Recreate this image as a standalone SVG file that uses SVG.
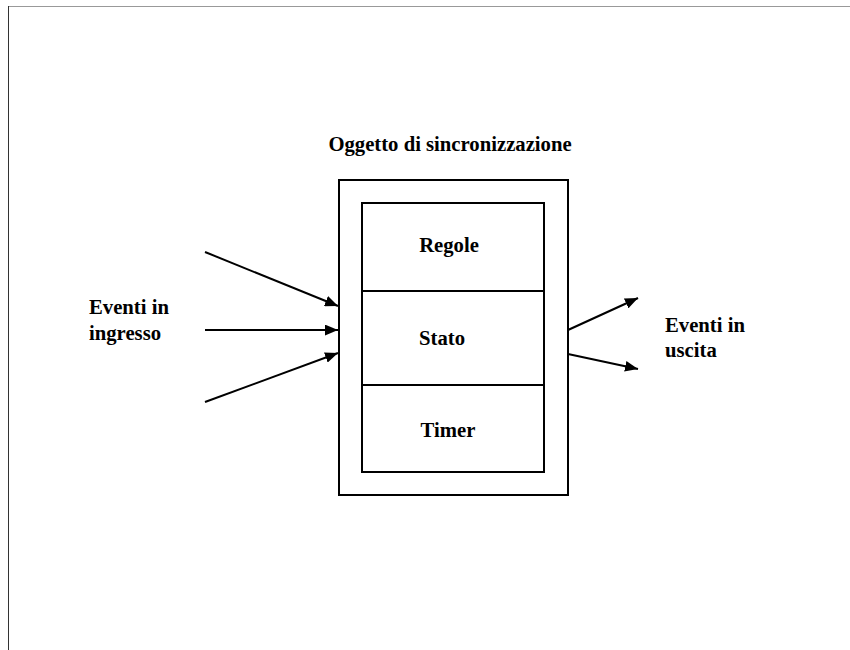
<svg xmlns="http://www.w3.org/2000/svg" width="850" height="650" viewBox="0 0 850 650">
  <style>
    text { font-family: "Liberation Serif", "Times New Roman", serif; font-weight: bold; font-size: 20.7px; fill: #000; }
    .box { fill: none; stroke: #000; stroke-width: 2; }
    .edge { stroke: #000; stroke-width: 2; fill: none; marker-end: url(#head); }
  </style>
  <defs>
    <marker id="head" viewBox="0 0 12 10" refX="12" refY="5" markerWidth="13" markerHeight="11" markerUnits="userSpaceOnUse" orient="auto">
      <path d="M0,0 L12,5 L0,10 z" fill="#000"/>
    </marker>
  </defs>
  <rect width="850" height="650" fill="#fff"/>
  <!-- page frame -->
  <line x1="8" y1="6.5" x2="850" y2="6.5" stroke="#999" stroke-width="1"/>
  <line x1="8.5" y1="6" x2="8.5" y2="650" stroke="#333" stroke-width="1"/>

  <text x="450" y="151" text-anchor="middle">Oggetto di sincronizzazione</text>

  <g id="sync-object">
    <rect class="box" x="339" y="180" width="229" height="315"/>
  </g>
  <g id="regole">
    <rect class="box" x="362" y="203" width="182" height="88"/>
    <text x="449" y="252" text-anchor="middle">Regole</text>
  </g>
  <g id="stato">
    <rect class="box" x="362" y="291" width="182" height="94"/>
    <text x="442" y="345" text-anchor="middle">Stato</text>
  </g>
  <g id="timer">
    <rect class="box" x="362" y="385" width="182" height="87"/>
    <text x="448" y="437" text-anchor="middle">Timer</text>
  </g>

  <g id="eventi-ingresso">
    <text x="89" y="314">Eventi in</text>
    <text x="89" y="340">ingresso</text>
  </g>
  <g id="eventi-uscita">
    <text x="665" y="332">Eventi in</text>
    <text x="665" y="357">uscita</text>
  </g>

  <g id="connectors">
    <line class="edge" x1="205" y1="252" x2="338" y2="306"/>
    <line class="edge" x1="205" y1="330" x2="338" y2="330"/>
    <line class="edge" x1="205" y1="402" x2="338" y2="353"/>
    <line class="edge" x1="568" y1="330" x2="638" y2="298"/>
    <line class="edge" x1="568" y1="354" x2="638" y2="369"/>
  </g>
</svg>
